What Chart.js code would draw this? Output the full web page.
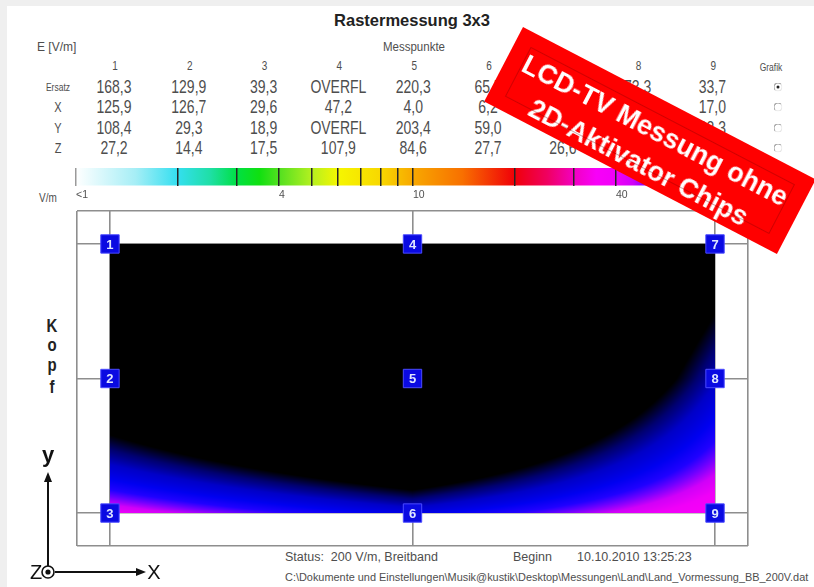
<!DOCTYPE html>
<html>
<head>
<meta charset="utf-8">
<title>Rastermessung 3x3</title>
<script src="https://cdn.jsdelivr.net/npm/chart.js@4.4.1/dist/chart.umd.min.js"></script>
<style>
  body { margin: 0; width: 814px; height: 587px; overflow: hidden; position: relative;
         background: #efefef; font-family: "Liberation Sans", Arial, sans-serif; }
  #panel { position: absolute; left: 7px; top: 6px; right: 0; bottom: 0; background: #fff; }
  .t { position: absolute; white-space: nowrap; color: #4e4e4e; transform: translate(-50%, -50%) scaleY(1.28); }
  .l { position: absolute; white-space: nowrap; color: #4e4e4e; transform: translateY(-50%); transform-origin: 0 50%; }
  #heat { position: absolute; left: 76px; top: 210px; }
  #bar { position: absolute; left: 60px; top: 160px; }
  .radio { position: absolute; width: 7px; height: 7px; border-radius: 50%; border: 1px solid #9a9a9a;
           border-right-color: #e4e4e4; border-bottom-color: #e4e4e4; transform: translate(-50%, -50%); }
  .radio.on::after { content: ""; position: absolute; left: 2px; top: 2px; width: 3px; height: 3px;
           border-radius: 50%; background: #222; }
  #banner { position: absolute; left: 523px; top: 27px; width: 330px; height: 84px; box-sizing: border-box;
            padding-top: 13px; background: #ff0000; color: #fff; text-align: center;
            font: bold 27px "Liberation Sans", Arial, sans-serif; line-height: 36px;
            transform-origin: 0 0; transform: rotate(27.5deg); }
  #banner::after { content: ""; position: absolute; left: 16px; top: 14px; right: 16px; bottom: 14px;
            border: 1px solid rgba(120, 0, 0, 0.35); }
</style>
</head>
<body>
<div id="panel"></div>
<canvas id="bar" width="710" height="43"></canvas>
<canvas id="heat" width="673" height="337"></canvas>
<svg id="axes" width="180" height="140" style="position:absolute;left:0;top:447px" xmlns="http://www.w3.org/2000/svg">
  <line x1="48" y1="125" x2="48" y2="32" stroke="#111" stroke-width="2"/>
  <polygon points="48,25 44,35 52,35" fill="#111"/>
  <line x1="55" y1="125" x2="138" y2="125" stroke="#111" stroke-width="2"/>
  <polygon points="146,125 136,121 136,129" fill="#111"/>
  <circle cx="48" cy="125" r="6" fill="#fff" stroke="#111" stroke-width="1.6"/>
  <circle cx="48" cy="125" r="2.6" fill="#111"/>
  <text x="48" y="15" font-family="Liberation Sans, Arial" font-size="22" font-weight="bold" text-anchor="middle" fill="#111">y</text>
  <text x="36" y="132" font-family="Liberation Sans, Arial" font-size="20" text-anchor="middle" fill="#111">Z</text>
  <text x="154" y="132" font-family="Liberation Sans, Arial" font-size="20" text-anchor="middle" fill="#111">X</text>
</svg>
<div id="banner">LCD-TV Messung ohne<br>2D-Aktivator Chips</div>
<script>
// Messpunkte 1..9 im 3x3-Raster (Spalte / Zeile)
const pointIds = [1, 2, 3, 4, 5, 6, 7, 8, 9];
const pointCol = [0, 0, 0, 1, 1, 1, 2, 2, 2];
const pointRow = [0, 1, 2, 0, 1, 2, 0, 1, 2];

// Feldstaerke E [V/m], null = OVERFL
const rowNames = ['Ersatz', 'X', 'Y', 'Z'];
const ersatz = [168.3, 129.9, 39.3, null, 220.3, 65.5, 111.9, 73.3, 33.7];
const compX  = [125.9, 126.7, 29.6, 47.2, 4.0, 6.2, 88.2, 55.0, 17.0];
const compY  = [108.4, 29.3, 18.9, null, 203.4, 59.0, 63.5, 44.1, 23.3];
const compZ  = [27.2, 14.4, 17.5, 107.9, 84.6, 27.7, 26.6, 20.3, 17.4];
const overflowLevel = 250;

// Farbskala V/m (logarithmisch)
const scaleTicks = [1, 2, 3, 4, 5, 6, 7, 8, 9, 10, 20, 30, 40, 50, 60, 70, 80, 90, 100];
const scaleLabels = { 1: '<1', 4: '4', 10: '10', 40: '40' };
const stopValues = [1, 1.5, 2, 2.5, 3, 3.5, 4, 5, 6, 8, 10, 14, 20, 25, 30, 35, 40, 45, 50, 55, 62, 72, 82, 92, 100];
const stopColors = ['#ffffff', '#a6eef6', '#34dff0', '#1fdfa6', '#00e044', '#10e010', '#52e020',
                    '#b4f020', '#f6f600', '#f8d800', '#f8a800', '#f87000', '#f00008', '#f00060',
                    '#f200c0', '#f800f8', '#f000f8', '#d000f8', '#7000ff', '#2000ff', '#0000f0',
                    '#0000c8', '#000070', '#000000', '#000000'];

const colX = i => 114 + 74.8 * i;
const rowY = [87, 107, 128, 148];
const fmt = v => v == null ? 'OVERFL' : v.toFixed(1).replace('.', ',');

function place(text, x, y, cls, style) {
  const el = document.createElement('div');
  el.className = cls;
  el.textContent = text;
  el.style.left = x + 'px';
  el.style.top = y + 'px';
  Object.assign(el.style, style || {});
  document.body.insertBefore(el, document.getElementById('banner'));
  return el;
}

// Kopf und Tabelle
place('Rastermessung 3x3', 412, 20, 't', { font: 'bold 16.5px "Liberation Sans", Arial', color: '#222', transform: 'translate(-50%,-50%)' });
place('E [V/m]', 37, 47, 'l', { fontSize: '12px' });
place('Messpunkte', 414, 47, 't', { fontSize: '11.5px', transform: 'translate(-50%,-50%) scaleY(1.1)' });
place('Grafik', 771, 67, 't', { fontSize: '8.5px' });
pointIds.forEach((id, i) => place(String(id), colX(i) + 1, 66, 't', { fontSize: '10px' }));
[ersatz, compX, compY, compZ].forEach((row, r) => {
  place(rowNames[r], 58, rowY[r], 't', { fontSize: r === 0 ? '8.5px' : '11px' });
  row.forEach((v, i) => place(fmt(v), colX(i), rowY[r], 't', { fontSize: '14px' }));
  const rb = document.createElement('div');
  rb.className = 'radio' + (r === 0 ? ' on' : '');
  rb.style.left = '778px';
  rb.style.top = rowY[r] + 'px';
  document.body.insertBefore(rb, document.getElementById('banner'));
});
place('V/m', 48, 198, 't', { fontSize: '10px' });
['K', 'o', 'p', 'f'].forEach((c, i) => place(c, 52, [325, 344, 364, 386][i], 't', { font: 'bold 15px "Liberation Sans", Arial', color: '#222' }));

// Fusszeile
place('Status:  200 V/m, Breitband', 285, 557, 'l', { fontSize: '12.5px', whiteSpace: 'pre' });
place('Beginn', 513, 557, 'l', { fontSize: '12.5px' });
place('10.10.2010 13:25:23', 577, 557, 'l', { fontSize: '12.5px' });
const pathEl = place('C:\\Dokumente und Einstellungen\\Musik@kustik\\Desktop\\Messungen\\Land\\Land_Vormessung_BB_200V.dat', 285, 577, 'l', { fontSize: '11px' });
pathEl.style.transform = 'translateY(-50%) scaleX(' + (523 / pathEl.offsetWidth).toFixed(3) + ')';

function hexRgb(h) {
  return [parseInt(h.slice(1, 3), 16), parseInt(h.slice(3, 5), 16), parseInt(h.slice(5, 7), 16)];
}
const stopRgb = stopColors.map(hexRgb);

function colorAt(v) {
  if (v >= stopValues[stopValues.length - 1]) return stopRgb[stopRgb.length - 1];
  if (v <= stopValues[0]) return stopRgb[0];
  const lv = Math.log10(v);
  for (let i = 1; i < stopValues.length; i++) {
    if (v <= stopValues[i]) {
      const a = Math.log10(stopValues[i - 1]), b = Math.log10(stopValues[i]);
      const t = (lv - a) / (b - a);
      const c0 = stopRgb[i - 1], c1 = stopRgb[i];
      return [c0[0] + (c1[0] - c0[0]) * t, c0[1] + (c1[1] - c0[1]) * t, c0[2] + (c1[2] - c0[2]) * t];
    }
  }
  return stopRgb[stopRgb.length - 1];
}

// Feldverteilung zwischen den Messpunkten (bilinear)
const heatPlugin = {
  id: 'heatField',
  beforeDatasetsDraw(chart) {
    const { ctx, scales: { x, y } } = chart;
    const left = Math.round(x.getPixelForValue(0));
    const right = Math.round(x.getPixelForValue(2));
    const top = Math.round(y.getPixelForValue(0));
    const bottom = Math.round(y.getPixelForValue(2));
    const w = right - left, h = bottom - top;
    const grid = [[], [], []];
    pointIds.forEach((id, i) => {
      grid[pointCol[i]][pointRow[i]] = ersatz[i] == null ? overflowLevel : ersatz[i];
    });
    const off = document.createElement('canvas');
    off.width = w;
    off.height = h;
    const octx = off.getContext('2d');
    const img = octx.createImageData(w, h);
    for (let py = 0; py < h; py++) {
      const gy = Math.min(2, Math.max(0, y.getValueForPixel(top + py + 0.5)));
      const r0 = Math.min(1, Math.floor(gy));
      const ty = gy - r0;
      for (let px = 0; px < w; px++) {
        const gx = Math.min(2, Math.max(0, x.getValueForPixel(left + px + 0.5)));
        const c0 = Math.min(1, Math.floor(gx));
        const tx = gx - c0;
        const v = (grid[c0][r0] * (1 - tx) + grid[c0 + 1][r0] * tx) * (1 - ty)
                + (grid[c0][r0 + 1] * (1 - tx) + grid[c0 + 1][r0 + 1] * tx) * ty;
        const col = colorAt(v);
        const k = (py * w + px) * 4;
        img.data[k] = col[0];
        img.data[k + 1] = col[1];
        img.data[k + 2] = col[2];
        img.data[k + 3] = 255;
      }
    }
    octx.putImageData(img, 0, 0);
    ctx.drawImage(off, left, top, w, h);
  }
};

const idPlugin = {
  id: 'pointIds',
  afterDatasetsDraw(chart) {
    const { ctx } = chart;
    const meta = chart.getDatasetMeta(0);
    ctx.save();
    ctx.font = 'bold 13px "Liberation Sans", Arial';
    ctx.fillStyle = '#dfe6ff';
    ctx.textAlign = 'center';
    ctx.textBaseline = 'middle';
    meta.data.forEach((pt, i) => ctx.fillText(String(pointIds[i]), pt.x, pt.y + 1));
    ctx.restore();
  }
};

const xEdge = 0.109, yEdge = 0.245;
new Chart(document.getElementById('heat'), {
  type: 'scatter',
  data: {
    datasets: [{
      data: pointIds.map((id, i) => ({ x: pointCol[i], y: pointRow[i] })),
      pointStyle: 'rect',
      pointRadius: 13,
      pointHoverRadius: 13,
      backgroundColor: '#0a0ae2',
      borderColor: '#4a4aff',
      borderWidth: 1
    }]
  },
  options: {
    responsive: false,
    animation: false,
    layout: { padding: 1, autoPadding: false },
    plugins: { legend: { display: false }, tooltip: { enabled: false } },
    scales: {
      x: {
        type: 'linear', min: -xEdge, max: 2 + xEdge,
        afterBuildTicks: s => { s.ticks = [-xEdge, 0, 1, 2, 2 + xEdge].map(v => ({ value: v })); },
        ticks: { display: false },
        grid: { color: '#8e8e8e', lineWidth: 1.6, drawTicks: false },
        border: { display: false }
      },
      y: {
        type: 'linear', reverse: true, min: -yEdge, max: 2 + yEdge,
        afterBuildTicks: s => { s.ticks = [-yEdge, 0, 1, 2, 2 + yEdge].map(v => ({ value: v })); },
        ticks: { display: false },
        grid: { color: '#8e8e8e', lineWidth: 1.6, drawTicks: false },
        border: { display: false }
      }
    }
  },
  plugins: [heatPlugin, idPlugin]
});

// Farbbalken
const gradientPlugin = {
  id: 'gradientBar',
  beforeDraw(chart) {
    const { ctx, chartArea: { left, right, top, bottom }, scales: { x } } = chart;
    const g = ctx.createLinearGradient(left, 0, right, 0);
    stopValues.forEach((v, i) => {
      const f = (x.getPixelForValue(v) - left) / (right - left);
      g.addColorStop(Math.min(1, Math.max(0, f)), stopColors[i]);
    });
    ctx.save();
    ctx.fillStyle = g;
    ctx.fillRect(left, top, right - left, bottom - top);
    ctx.restore();
  }
};

new Chart(document.getElementById('bar'), {
  type: 'scatter',
  data: { datasets: [] },
  options: {
    responsive: false,
    animation: false,
    layout: { padding: { left: 16, right: 20, top: 8, bottom: 0 } },
    plugins: { legend: { display: false }, tooltip: { enabled: false } },
    scales: {
      x: {
        type: 'logarithmic', min: 1, max: 100, position: 'bottom',
        afterBuildTicks: s => { s.ticks = scaleTicks.map(v => ({ value: v })); },
        ticks: {
          autoSkip: false, maxRotation: 0, align: 'start', padding: 3, color: '#505050',
          font: { size: 10.5, family: '"Liberation Sans", Arial' },
          callback: v => scaleLabels[v] ?? ''
        },
        grid: {
          drawTicks: false, lineWidth: 1.5,
          color: c => (c.tick && c.tick.value === 1) ? '#9a9a9a' : '#262626'
        },
        border: { display: false }
      },
      y: { display: false, min: 0, max: 1 }
    }
  },
  plugins: [gradientPlugin]
});
</script>
</body>
</html>
